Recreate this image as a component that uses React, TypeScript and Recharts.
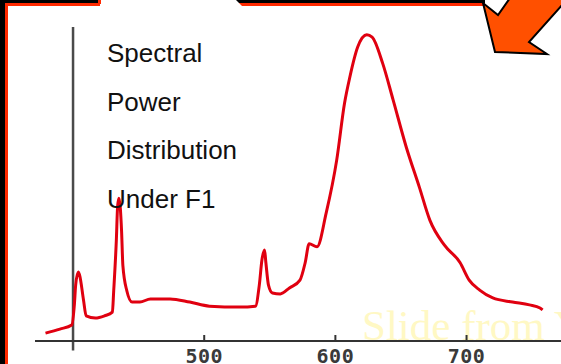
import React from "react";
import { LineChart, Line, XAxis, YAxis, ReferenceLine } from "recharts";

const wavelengths = [379, 390, 399, 401, 402, 404, 405, 408, 410, 417, 424, 430, 431, 433, 434, 435, 437, 438, 441, 445, 451, 459, 474, 489, 504, 527, 539, 542, 544, 546, 547, 549, 552, 558, 565, 573, 577, 580, 586, 593, 601, 607, 611, 617, 624, 628, 636, 644, 654, 664, 672, 683, 695, 702, 710, 720, 735, 748, 756, 758];
const power = [2.5, 3.8, 5.1, 11.5, 17.8, 22, 21, 13, 8, 7.3, 8, 9.2, 16, 32, 43, 45.5, 35, 24, 16, 12.4, 12.4, 13.4, 13.4, 12.4, 11.1, 10.8, 11.1, 17.8, 25.8, 29, 25, 17.8, 15.3, 15, 16.9, 19.4, 25, 31, 30, 40.8, 57.6, 75.8, 84, 93.6, 97.5, 96.8, 88.5, 76.8, 61.8, 49, 38.5, 30.6, 25, 19.4, 16.2, 13.7, 12.4, 11.5, 10.5, 9.9];
const xTicks = [500, 600, 700];
const titleLines = ["Spectral", "Power", "Distribution", "Under F1"];
const watermark = "Slide from Y";

const data = wavelengths.map((nm, i) => ({ nm, power: power[i] }));

const Tick = (props: any) => {
  const { x, y, payload } = props;
  return (
    <g>
      <line x1={x} x2={x} y1={y - 6} y2={y} stroke="#333" strokeWidth={2} />
      <text
        x={x}
        y={y + 22}
        textAnchor="middle"
        fontFamily="DejaVu Sans Mono"
        fontWeight="bold"
        fontSize={20}
        letterSpacing={0.5}
        fill="#3a3a3a"
      >
        {payload.value}
      </text>
    </g>
  );
};

export default function App() {
  return (
    <div
      style={{
        position: "fixed",
        left: 0,
        top: 0,
        width: 561,
        height: 364,
        background: "#fff",
        overflow: "hidden",
      }}
    >
      <div
        style={{
          position: "absolute",
          left: 362,
          top: 302,
          fontFamily: "Liberation Serif",
          fontSize: 43,
          lineHeight: "48px",
          color: "#FFF8C4",
          whiteSpace: "nowrap",
        }}
      >
        {watermark}
      </div>
      <div style={{ position: "absolute", left: 0, top: 0 }}>
        <LineChart
          width={561}
          height={364}
          data={data}
          margin={{ top: 27, right: 0, bottom: 0, left: 35 }}
        >
          <XAxis
            type="number"
            dataKey="nm"
            domain={[371, 772]}
            ticks={xTicks}
            allowDataOverflow
            height={23}
            axisLine={{ stroke: "#333", strokeWidth: 2 }}
            tickLine={false}
            tickSize={0}
            tickMargin={0}
            tick={<Tick />}
          />
          <YAxis type="number" domain={[0, 100]} hide />
          <ReferenceLine
            segment={[
              { x: 400, y: -3 },
              { x: 400, y: 100 },
            ]}
            ifOverflow="visible"
            stroke="#4a4a4a"
            strokeWidth={2.5}
          />
          <Line
            type="monotone"
            dataKey="power"
            stroke="#E00010"
            strokeWidth={3}
            dot={false}
            isAnimationActive={false}
          />
        </LineChart>
      </div>
      <svg
        width={561}
        height={364}
        style={{ position: "absolute", left: 0, top: 0, pointerEvents: "none" }}
      >
        {titleLines.map((t, i) => (
          <text
            key={t}
            x={107}
            y={62 + i * 48.7}
            fontFamily="Liberation Sans"
            fontSize={26}
            fill="#111"
          >
            {t}
          </text>
        ))}
        <rect x={0} y={0} width={5} height={364} fill="#000" />
        <rect x={5} y={3} width={3} height={361} fill="#FF2A00" />
        <rect x={0} y={0} width={100} height={3} fill="#000" />
        <rect x={5} y={3} width={95} height={3} fill="#FF2A00" />
        <rect x={98} y={0} width={3} height={4} fill="#FF2A00" />
        <polygon points="236,0 485,0 485,3 239,3" fill="#000" />
        <polygon points="239,3 485,3 485,6 242,6" fill="#FF2A00" />
        <polygon
          points="483,3 495,52 547,54 529,42 563,4 563,-2 510,-2 498,15"
          fill="#FF5000"
          stroke="#000"
          strokeWidth={2}
          strokeLinejoin="miter"
        />
      </svg>
    </div>
  );
}
